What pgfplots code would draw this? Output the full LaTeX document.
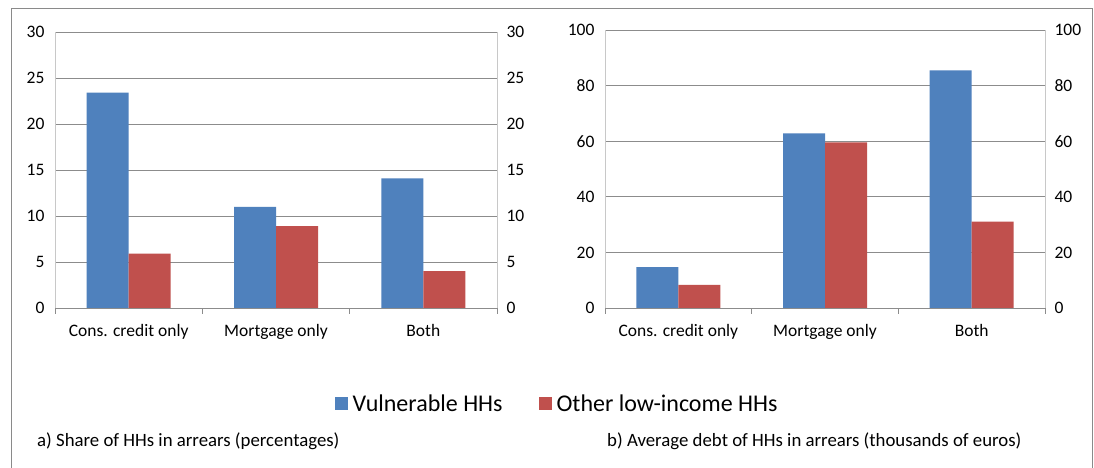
\documentclass[border=0pt]{standalone}
\usepackage{fontspec}
\setmainfont{Carlito}
\usepackage{pgfplots}
\pgfplotsset{compat=1.18}
\definecolor{cblue}{HTML}{4F81BD}
\definecolor{cred}{HTML}{C0504D}
\definecolor{gridc}{HTML}{8C8C8C}
\definecolor{axc}{HTML}{C8C8C8}
\definecolor{framec}{HTML}{8A8A8A}
\pgfplotsset{
  panel/.style={
    scale only axis, anchor=south west,
    xmin=-0.5, xmax=2.5, ymin=0,
    axis x line*=bottom, axis y line*=left,
    xtick={0,1,2}, xticklabels={Cons. credit only, Mortgage only, Both},
    minor xtick={-0.5,0.5,1.5,2.5},
    major x tick style={draw=none},
    minor tick length=6pt, major tick length=0pt, tick align=outside,
    minor tick style={draw=gridc, line width=0.8pt},
    x axis line style={draw=gridc, line width=0.8pt},
    y axis line style={draw=axc, line width=0.8pt},
    ytick style={draw=none},
    ymajorgrids, grid style={draw=gridc, line width=0.6pt},
    ybar=0pt, bar width=42pt,
    tick label style={font=\fontsize{17.5}{20}\selectfont},
    /pgf/number format/assume math mode=true,
    xticklabel style={yshift=-13pt},
    yticklabel style={xshift=-7pt},
    clip=false,
  },
  rpanel/.style={
    scale only axis, anchor=south west,
    xmin=-0.5, xmax=2.5, ymin=0,
    axis x line=none, axis y line*=right,
    y axis line style={draw=axc, line width=0.8pt},
    ytick style={draw=none},
    tick label style={font=\fontsize{17.5}{20}\selectfont},
    yticklabel style={xshift=6pt},
    /pgf/number format/assume math mode=true,
  },
}
\begin{document}
\begin{tikzpicture}[x=1pt,y=1pt]
\useasboundingbox (0,0) rectangle (1094,468);
\fill[white] (0,0) rectangle (1094,468);
\draw[framec, line width=1pt] (11.5,0) -- (11.5,459) -- (1092.5,459) -- (1092.5,0);

% left panel
\begin{axis}[panel, at={(55pt,160pt)}, width=442pt, height=276pt,
  ymax=30, ytick={0,5,...,30},
  legend style={at={(axis description cs:1.136,-0.346)}, anchor=center, draw=none, fill=none,
    legend columns=2, font=\fontsize{24}{27}\selectfont,
    /tikz/every odd column/.append style={column sep=3pt},
    /tikz/every even column/.append style={column sep=34pt}},
  legend image code/.code={\fill[#1] (0pt,-6.5pt) rectangle (13pt,6.5pt);},
]
\addplot[fill=cblue, draw=none] coordinates {(0,23.4) (1,11.0) (2,14.1)};
\addplot[fill=cred, draw=none] coordinates {(0,5.9) (1,8.9) (2,4.0)};
\legend{Vulnerable HHs, Other low-income HHs}
\end{axis}
\begin{axis}[rpanel, at={(55pt,160pt)}, width=442pt, height=276pt,
  ymax=30, ytick={0,5,...,30}]
\end{axis}

% right panel
\begin{axis}[panel, at={(605pt,160pt)}, width=440pt, height=278pt,
  ymax=100, ytick={0,20,...,100}]
\addplot[fill=cblue, draw=none] coordinates {(0,14.7) (1,62.8) (2,85.5)};
\addplot[fill=cred, draw=none] coordinates {(0,8.3) (1,59.6) (2,31.1)};
\end{axis}
\begin{axis}[rpanel, at={(605pt,160pt)}, width=440pt, height=278pt,
  ymax=100, ytick={0,20,...,100}]
\end{axis}

\node[anchor=west, font=\fontsize{18.8}{21}\selectfont, inner sep=0pt] at (37,27) {a) Share of HHs in arrears (percentages)};
\node[anchor=west, font=\fontsize{18.8}{21}\selectfont, inner sep=0pt] at (607,27) {b) Average debt of HHs in arrears (thousands of euros)};
\end{tikzpicture}
\end{document}
